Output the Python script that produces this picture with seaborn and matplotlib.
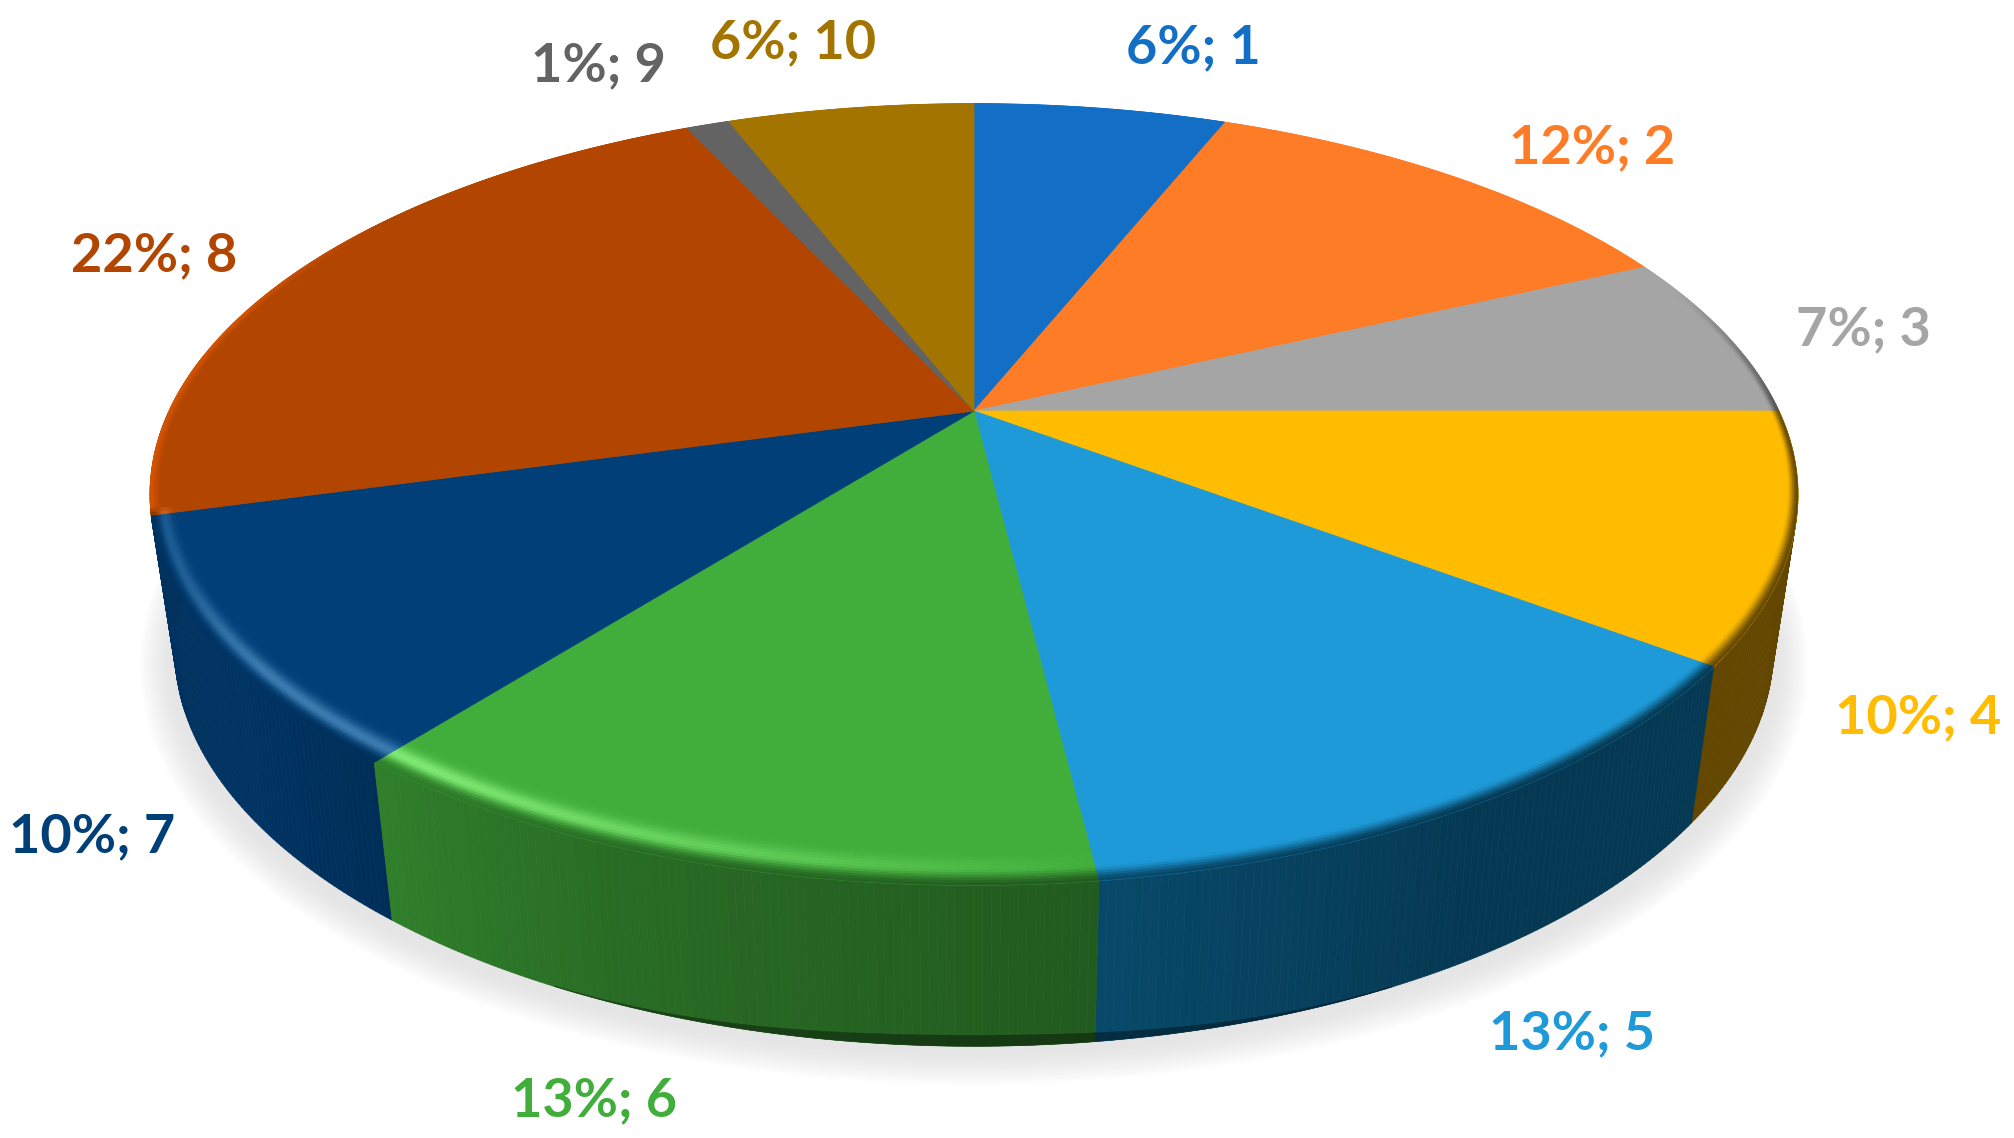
import numpy as np
import matplotlib
matplotlib.use("Agg")
import matplotlib.pyplot as plt
from matplotlib.collections import PolyCollection
from matplotlib.path import Path
from matplotlib.transforms import Transform, Affine2D
from matplotlib.colors import to_rgb
import seaborn as sns

# ---- data ----
categories = [1, 2, 3, 4, 5, 6, 7, 8, 9, 10]
# shares; the labels show them rounded
shares = [6.1, 12.0, 6.9, 10.2, 12.85, 12.6, 10.1, 22.25, 1.05, 5.95]
slice_colors = ["#136FC6", "#FF7C26", "#A5A5A5", "#FFBC00", "#1E9AD8",
                "#41AD3B", "#003F78", "#B24600", "#636363", "#A37400"]
label_xy = [(1193, 48), (1592, 148), (1863, 330), (1918, 718), (1572, 1034),
            (594, 1101), (92, 837), (154, 256), (598, 66), (793, 43)]

# ---- view geometry (a perspective view of a disc) ----
CX, CY, RX, RY, K = 974.0, 411.0, 805.0, 373.0, 0.2135
WALL = 155.0
WALL_SHRINK = 0.97

sns.set_theme(style="white")
plt.rcParams["font.family"] = ["Lato", "DejaVu Sans"]
palette = sns.color_palette(slice_colors)


def project(x, y):
    s = 1.0 / (1.0 + K * y)
    return CX + RX * x * s, CY - RY * y * s


class DiscView(Transform):
    input_dims = output_dims = 2
    has_inverse = False
    is_affine = False

    def transform_non_affine(self, values):
        v = np.asarray(values, float)
        return np.column_stack(project(v[:, 0], v[:, 1]))

    def transform_path_non_affine(self, path):
        scale = 4000.0
        big = Affine2D().scale(scale).transform_path(path)
        polys = big.to_polygons(closed_only=True)
        pts = np.vstack(polys) / scale
        return Path(self.transform_non_affine(pts), closed=True)


def ring_point(theta, r=1.0):
    a = np.radians(theta)
    return project(r * np.sin(a), r * np.cos(a))


def toward_centre(x, y, d):
    return CX + (x - CX) * (1 - d), CY + (y - CY) * (1 - d)


def wall_foot(theta, x, y):
    va = max(0.0, -np.cos(np.radians(theta)))
    return CX + (x - CX) * WALL_SHRINK, y + WALL + 6 * va ** 3


def lit(theta, stops_t, stops_v):
    return np.interp(np.mod(theta, 360), stops_t, stops_v)


SIDE_T = [0, 70, 85, 92, 150, 172, 200, 232, 255, 256, 285, 305, 360]
SIDE_F = [1.0, 1.0, .62, .42, .42, .52, .62, .82, .78, 1.2, 1.2, 1.0, 1.0]
HIGH_T = [0, 172, 190, 215, 232, 245, 255, 256, 360]
HIGH_V = [0, 0, .45, 1, 1, .55, .45, 0, 0]
DEEP_SLICES = (3, 4)

fig = plt.figure(figsize=(20.15, 11.38), dpi=100)
ax = fig.add_axes([0, 0, 1, 1])

wedges, _ = ax.pie(shares, colors=palette, startangle=90, counterclock=False,
                   radius=1.0, wedgeprops=dict(linewidth=0.6, zorder=5))
ax.set_aspect("auto")
ax.set_xlim(0, 2015)
ax.set_ylim(1138, 0)
ax.axis("off")
view = DiscView() + ax.transData
for w, col in zip(wedges, palette):
    w.set_transform(view)
    w.set_edgecolor(col)

edges = np.concatenate([[0], np.cumsum(shares)]) / np.sum(shares) * 360.0

# soft shadow below the disc
all_t = np.linspace(0, 360, 361)
sx, sy = ring_point(all_t)
levels = 26
for i in range(levels, 0, -1):
    grow = i / levels * 36
    f = (i / levels)
    g = 0.895 + 0.105 * f ** 1.4
    px = CX + (sx - CX) * WALL_SHRINK * (1 + grow / 790)
    py = sy + WALL + 10 + (sy - CY) * grow / 470
    ax.fill(px, py, color=(g, g, g), lw=0, zorder=1)

# side wall and bevel
wall_items, rim_polys, rim_cols, band_polys, band_cols = [], [], [], [], []
t_levels = np.linspace(0, 1, 15)
for k, col in enumerate(palette):
    face = np.array(to_rgb(col))
    n = max(2, int((edges[k + 1] - edges[k]) / 0.5))
    th = np.linspace(edges[k], edges[k + 1], n + 1)
    for a, b in zip(th[:-1], th[1:]):
        m = 0.5 * (a + b)
        f = lit(m, SIDE_T, SIDE_F)
        wall = face * f
        if k in DEEP_SLICES:
            wall = wall - 0.03
        wall = np.clip(wall, 0, 1)
        # wall
        vm = np.cos(np.radians(m))
        if vm < 0.15:
            xa, ya = ring_point(a)
            xb, yb = ring_point(b)
            foot_a = wall_foot(a, xa, ya)
            foot_b = wall_foot(b, xb, yb)
            wall_items.append((-vm, [(xa, ya), (xb, yb), foot_b, foot_a], wall))
            rim = 11 * max(0.0, -vm) ** 30
            if rim > 0.5:
                rim_polys.append([(foot_a[0], foot_a[1] - rim), (foot_b[0], foot_b[1] - rim),
                                  foot_b, foot_a])
                rim_cols.append(wall * 0.62)
        # bevel on the top face, kept inside the slice's own radial edges
        h = lit(m, HIGH_T, HIGH_V)
        for t0, t1 in zip(t_levels[:-1], t_levels[1:]):
            tm = 0.5 * (t0 + t1)
            pts = []
            for ang, tt in ((a, t0), (b, t0), (b, t1), (a, t1)):
                x, y = ring_point(ang)
                va = max(0.0, -np.cos(np.radians(ang)))
                d = (0.025 + 0.05 * va ** 1.5) * (1 - tt)
                pts.append(toward_centre(x, y, d))
            bump = np.exp(-((tm - 0.5) / 0.25) ** 2) * h
            c = np.clip(face + bump * np.array([.24, .24, .22]), 0, 1)
            w = np.clip((tm - 0.55) / 0.45, 0, 1)
            w = w * w * (3 - 2 * w)
            band_polys.append(pts)
            band_cols.append(c * (1 - w) + wall * w)

# walls go back to front, so that the nearer slices cover the further ones
wall_items.sort(key=lambda item: item[0])
wall_polys = [item[1] for item in wall_items]
wall_cols = [item[2] for item in wall_items]

ax.add_collection(PolyCollection(wall_polys, facecolors=wall_cols, edgecolors=wall_cols,
                                 linewidths=0.5, zorder=3))
ax.add_collection(PolyCollection(rim_polys, facecolors=rim_cols, edgecolors=rim_cols,
                                 linewidths=0.3, zorder=4))
ax.add_collection(PolyCollection(band_polys, facecolors=band_cols, edgecolors=band_cols,
                                 linewidths=0.4, zorder=6))

# labels
for cat, share, col, (x, y) in zip(categories, shares, palette, label_xy):
    ax.text(x, y, f"{round(share)}%; {cat}", color=col, fontsize=39, fontweight="bold",
            ha="center", va="center", zorder=8)

fig.savefig("out.png", dpi=100, facecolor="white")
